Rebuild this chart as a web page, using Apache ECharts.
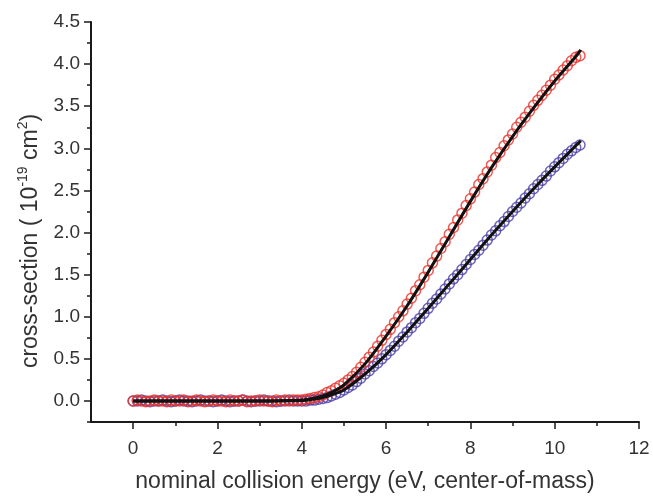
<!DOCTYPE html>
<html>
<head>
<meta charset="utf-8">
<script src="https://cdn.jsdelivr.net/npm/echarts@6/dist/echarts.min.js"></script>
<style>
html,body{margin:0;padding:0;background:#fff;}
#chart{width:653px;height:498px;}
</style>
</head>
<body>
<div id="chart"></div>
<script>
// ---- data ----
const energies = [
  0.0,0.1,0.2,0.3,0.4,0.5,0.6,0.7,0.8,0.9,
  1.0,1.1,1.2,1.3,1.4,1.5,1.6,1.7,1.8,1.9,
  2.0,2.1,2.2,2.3,2.4,2.5,2.6,2.7,2.8,2.9,
  3.0,3.1,3.2,3.3,3.4,3.5,3.6,3.7,3.8,3.9,
  4.0,4.1,4.2,4.3,4.4,4.5,4.6,4.7,4.8,4.9,
  5.0,5.1,5.2,5.3,5.4,5.5,5.6,5.7,5.8,5.9,
  6.0,6.1,6.2,6.3,6.4,6.5,6.6,6.7,6.8,6.9,
  7.0,7.1,7.2,7.3,7.4,7.5,7.6,7.7,7.8,7.9,
  8.0,8.1,8.2,8.3,8.4,8.5,8.6,8.7,8.8,8.9,
  9.0,9.1,9.2,9.3,9.4,9.5,9.6,9.7,9.8,9.9,
  10.0,10.1,10.2,10.3,10.4,10.5,10.6
];
const redSignal = [
  0.00,0.01,0.00,-0.01,0.00,0.01,0.00,0.00,-0.01,0.01,
  0.00,0.00,0.01,-0.01,0.00,0.01,0.00,-0.01,0.00,0.01,
  0.00,0.00,-0.01,0.01,0.00,0.00,0.01,-0.01,0.00,0.00,
  0.01,0.00,0.00,-0.01,0.01,0.00,0.01,0.00,0.01,0.01,
  0.01,0.02,0.03,0.04,0.05,0.07,0.10,0.12,0.15,0.18,
  0.21,0.25,0.29,0.34,0.40,0.46,0.52,0.58,0.65,0.72,
  0.79,0.85,0.93,1.00,1.07,1.15,1.22,1.31,1.38,1.47,
  1.55,1.64,1.72,1.81,1.89,1.98,2.06,2.15,2.23,2.32,
  2.40,2.48,2.57,2.64,2.72,2.80,2.89,2.95,3.03,3.10,
  3.17,3.25,3.31,3.37,3.44,3.51,3.57,3.63,3.69,3.75,
  3.82,3.87,3.93,3.98,4.04,4.08,4.10
];
const blueSignal = [
  0.00,0.00,0.01,0.00,-0.01,0.00,0.00,0.01,0.00,-0.01,
  0.00,0.01,0.00,0.00,-0.01,0.00,0.01,0.00,0.00,-0.01,
  0.00,0.01,0.00,-0.01,0.00,0.00,0.01,0.00,-0.01,0.00,
  0.00,0.01,0.00,0.00,-0.01,0.00,0.00,0.01,0.00,0.00,
  0.00,0.00,0.01,0.01,0.02,0.03,0.04,0.06,0.08,0.10,
  0.13,0.16,0.19,0.23,0.27,0.32,0.36,0.41,0.45,0.50,
  0.55,0.60,0.65,0.71,0.76,0.82,0.87,0.93,0.98,1.04,
  1.10,1.16,1.21,1.27,1.33,1.39,1.45,1.50,1.56,1.62,
  1.68,1.74,1.79,1.85,1.91,1.97,2.02,2.08,2.13,2.19,
  2.25,2.30,2.35,2.41,2.46,2.52,2.57,2.62,2.67,2.73,
  2.78,2.83,2.88,2.93,2.97,3.01,3.04
];
const fitEnergies = [0,1,2,3,3.5,4.0,4.25,4.5,4.75,5.0,5.5,6.0,6.5,7.0,7.5,8.0,8.5,9.0,9.5,10.0,10.5,10.62];
const redFit  = [0,0,0,0,0.002,0.01,0.03,0.06,0.11,0.19,0.44,0.77,1.13,1.53,1.95,2.37,2.77,3.14,3.48,3.80,4.09,4.17];
const blueFit = [0,0,0,0,0.001,0.005,0.02,0.04,0.08,0.13,0.32,0.55,0.82,1.10,1.39,1.68,1.97,2.25,2.52,2.78,3.03,3.09];
const xMajorTicks = [0,2,4,6,8,10,12];
const xMinorTicks = [1,3,5,7,9,11];
const yMajorTicks = [0,0.5,1.0,1.5,2.0,2.5,3.0,3.5,4.0,4.5];
const yMinorTicks = [-0.25,0.25,0.75,1.25,1.75,2.25,2.75,3.25,3.75,4.25];
const xTitle = 'nominal collision energy (eV, center-of-mass)';

// ---- chart ----
const chart = echarts.init(document.getElementById('chart'), null, {renderer:'canvas'});
const pair = (xs, ys) => xs.map((x, i) => [x, ys[i]]);
const FONT = 'Liberation Sans, Arial, sans-serif';
const axisCol = '#1a1a1a';
const labelCol = '#333';

const option = {
  backgroundColor: '#fff',
  animation: false,
  grid: {left: 91, right: 14, top: 22, bottom: 74, containLabel: false},
  xAxis: [{
    type: 'value', min: -1, max: 12,
    axisLine: {show: true, onZero: false, lineStyle: {color: axisCol, width: 2}},
    axisTick: {show: true, customValues: xMajorTicks, length: 7, lineStyle: {color: axisCol, width: 1.5}},
    axisLabel: {customValues: xMajorTicks, color: labelCol, fontSize: 19, fontFamily: FONT, margin: 17},
    splitLine: {show: false},
    name: xTitle, nameLocation: 'middle', nameGap: 48,
    nameTextStyle: {color: labelCol, fontSize: 23, fontFamily: FONT}
  }, {
    type: 'value', min: -1, max: 12, position: 'bottom', gridIndex: 0,
    axisLine: {show: false, onZero: false},
    axisTick: {show: true, customValues: xMinorTicks, length: 4, lineStyle: {color: axisCol, width: 1.5}},
    axisLabel: {show: false},
    splitLine: {show: false}
  }],
  yAxis: [{
    type: 'value', min: -0.25, max: 4.5,
    axisLine: {show: true, onZero: false, lineStyle: {color: axisCol, width: 2}},
    axisTick: {show: true, customValues: yMajorTicks, length: 7, lineStyle: {color: axisCol, width: 1.5}},
    axisLabel: {customValues: yMajorTicks, color: labelCol, fontSize: 19, fontFamily: FONT, margin: 11,
      formatter: v => v.toFixed(1)},
    splitLine: {show: false}
  }, {
    type: 'value', min: -0.25, max: 4.5, position: 'left', gridIndex: 0,
    axisLine: {show: false, onZero: false},
    axisTick: {show: true, customValues: yMinorTicks, length: 4, lineStyle: {color: axisCol, width: 1.5}},
    axisLabel: {show: false},
    splitLine: {show: false}
  }],
  graphic: [{
    type: 'text',
    x: 29, y: 241,
    rotation: Math.PI / 2,
    style: {
      text: '{n|cross-section ( 10}{s|-19}{n| cm}{s|2}{n|)}',
      align: 'center', verticalAlign: 'middle',
      fill: labelCol,
      rich: {
        n: {fontSize: 23, fontFamily: FONT, fill: labelCol, lineHeight: 26, verticalAlign: 'bottom'},
        s: {fontSize: 14, fontFamily: FONT, fill: labelCol, lineHeight: 26, verticalAlign: 'top'}
      }
    }
  }],
  series: [
    {type: 'scatter', name: 'blue', data: pair(energies, blueSignal), symbol: 'circle', symbolSize: 10,
     itemStyle: {color: 'rgba(0,0,0,0)', borderColor: '#4b3fa6', borderWidth: 1.5}, z: 2},
    {type: 'scatter', name: 'red', data: pair(energies, redSignal), symbol: 'circle', symbolSize: 10,
     itemStyle: {color: 'rgba(0,0,0,0)', borderColor: '#e8322a', borderWidth: 1.5}, z: 3},
    {type: 'line', name: 'blueFit', data: pair(fitEnergies, blueFit), smooth: 0.3,
     showSymbol: false, lineStyle: {color: '#111', width: 3}, z: 4},
    {type: 'line', name: 'redFit', data: pair(fitEnergies, redFit), smooth: 0.3,
     showSymbol: false, lineStyle: {color: '#111', width: 3}, z: 5}
  ]
};
chart.setOption(option);
</script>
</body>
</html>
